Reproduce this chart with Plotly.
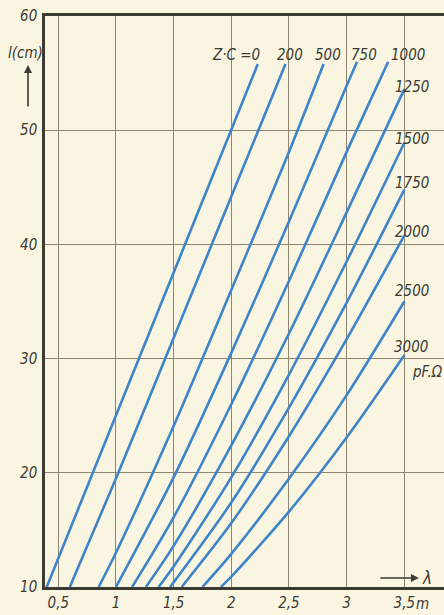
import plotly.graph_objects as go

# ---- data ----
zc_labels = ["Z·C =0", "200", "500", "750", "1000", "1250", "1500", "1750", "2000", "2500", "3000"]

lam_0 = [0.40, 2.23]
l_0 = [10.0, 55.8]
lam_200 = [0.60, 1.0, 1.5, 2.0, 2.47]
l_200 = [10.0, 19.5, 31.8, 44.2, 55.8]
lam_500 = [0.85, 1.0, 1.5, 2.0, 2.5, 2.80]
l_500 = [10.0, 13.0, 24.1, 36.0, 48.1, 55.8]
lam_750 = [1.00, 1.5, 2.0, 2.5, 3.0, 3.09]
l_750 = [10.0, 19.6, 30.5, 42.0, 53.9, 56.0]
lam_1000 = [1.14, 1.5, 2.0, 2.5, 3.0, 3.36]
l_1000 = [10.0, 16.1, 26.0, 36.8, 48.1, 56.0]
lam_1250 = [1.26, 1.5, 2.0, 2.5, 3.0, 3.5]
l_1250 = [10.0, 13.6, 22.4, 32.2, 42.8, 53.6]
lam_1500 = [1.37, 1.5, 2.0, 2.5, 3.0, 3.5]
l_1500 = [10.0, 11.8, 19.6, 28.6, 38.5, 48.9]
lam_1750 = [1.47, 2.0, 2.5, 3.0, 3.5]
l_1750 = [10.0, 17.4, 25.7, 34.9, 44.8]
lam_2000 = [1.57, 2.0, 2.5, 3.0, 3.5]
l_2000 = [10.0, 15.6, 23.2, 31.7, 40.8]
lam_2500 = [1.75, 2.0, 2.5, 3.0, 3.5]
l_2500 = [10.0, 12.9, 19.5, 26.8, 35.0]
lam_3000 = [1.91, 2.0, 2.5, 3.0, 3.5]
l_3000 = [10.0, 10.9, 16.6, 23.1, 30.3]

x_tickvals = [0.5, 1.0, 1.5, 2.0, 2.5, 3.0, 3.5]
x_ticktext = ["0,5", "1", "1,5", "2", "2,5", "3", "3,5"]
y_tickvals = [10, 20, 30, 40, 50, 60]
y_ticktext = ["10", "20", "30", "40", "50", "60"]

series = [
    (lam_0, l_0), (lam_200, l_200), (lam_500, l_500), (lam_750, l_750),
    (lam_1000, l_1000), (lam_1250, l_1250), (lam_1500, l_1500),
    (lam_1750, l_1750), (lam_2000, l_2000), (lam_2500, l_2500), (lam_3000, l_3000),
]

# label placement (layout only)
label_pos = [
    (2.04, 56.6), (2.51, 56.6), (2.84, 56.6), (3.15, 56.6), (3.53, 56.6),
    (3.57, 53.8), (3.57, 49.2), (3.57, 45.4), (3.57, 41.1), (3.57, 35.9), (3.56, 31.0),
]

BLUE = "#3d84c9"
INK = "#3b3a33"
BG = "#faf5e1"
GRID = "#8f8672"
FONT = "Liberation Sans Narrow, DejaVu Sans Condensed, Liberation Sans, sans-serif"

fig = go.Figure()
for (xs, ys), name in zip(series, zc_labels):
    fig.add_trace(go.Scatter(
        x=xs, y=ys, mode="lines", name=name,
        line=dict(color=BLUE, width=2.6, shape="spline", smoothing=0.8),
        showlegend=False, hoverinfo="skip",
    ))

annos = []
for (px, py), name in zip(label_pos, zc_labels):
    annos.append(dict(x=px, y=py, xref="x", yref="y", text=name, showarrow=False,
                      font=dict(family=FONT, size=15, color=INK, style="italic"),
                      xanchor="center", yanchor="middle"))
annos.append(dict(x=3.70, y=28.8, xref="x", yref="y", text="pF.Ω", showarrow=False,
                  font=dict(family=FONT, size=15, color=INK, style="italic"),
                  xanchor="center", yanchor="middle"))
# "m" after last tick label
annos.append(dict(x=0.925, y=-0.029, xref="paper", yref="paper", text="m", showarrow=False,
                  font=dict(family=FONT, size=15, color=INK, style="italic"),
                  xanchor="left", yanchor="middle"))
# y-axis title and arrow
annos.append(dict(x=-0.048, y=0.935, xref="paper", yref="paper", text="l(cm)", showarrow=False,
                  font=dict(family=FONT, size=15, color=INK, style="italic"),
                  xanchor="center", yanchor="middle"))
annos.append(dict(x=-0.0426, y=0.914, xref="paper", yref="paper", text="", showarrow=True,
                  ax=0, ay=43, axref="pixel", ayref="pixel", arrowhead=2, arrowsize=1,
                  arrowwidth=1.6, arrowcolor=INK))
# x-axis title and arrow
annos.append(dict(x=0.937, y=0.0158, xref="paper", yref="paper", text="", showarrow=True,
                  ax=-40, ay=0, axref="pixel", ayref="pixel", arrowhead=2, arrowsize=1,
                  arrowwidth=1.6, arrowcolor=INK))
annos.append(dict(x=0.957, y=0.0158, xref="paper", yref="paper", text="λ", showarrow=False,
                  font=dict(family=FONT, size=17, color=INK, style="italic"),
                  xanchor="center", yanchor="middle"))

fig.update_layout(
    width=444, height=615,
    margin=dict(l=45, r=0, t=16, b=28),
    paper_bgcolor=BG, plot_bgcolor=BG,
    annotations=annos,
    xaxis=dict(range=[0.385, 3.844], tickvals=x_tickvals, ticktext=x_ticktext,
               showgrid=True, gridcolor=GRID, gridwidth=1, zeroline=False,
               showline=True, linecolor=INK, linewidth=2.5, mirror=True, ticks="",
               tickfont=dict(family=FONT, size=15, color=INK, style="italic")),
    yaxis=dict(range=[10, 60], tickvals=y_tickvals, ticktext=y_ticktext,
               showgrid=True, gridcolor=GRID, gridwidth=1, zeroline=False,
               showline=True, linecolor=INK, linewidth=2.5, mirror=False, ticks="",
               ticklabelstandoff=2,
               tickfont=dict(family=FONT, size=15, color=INK, style="italic")),
)

fig.write_html(
    "out.html",
    config={"displayModeBar": False},
    post_script="document.body.style.margin='0';document.body.style.overflow='hidden';"
                "document.body.style.background='" + BG + "';",
)
